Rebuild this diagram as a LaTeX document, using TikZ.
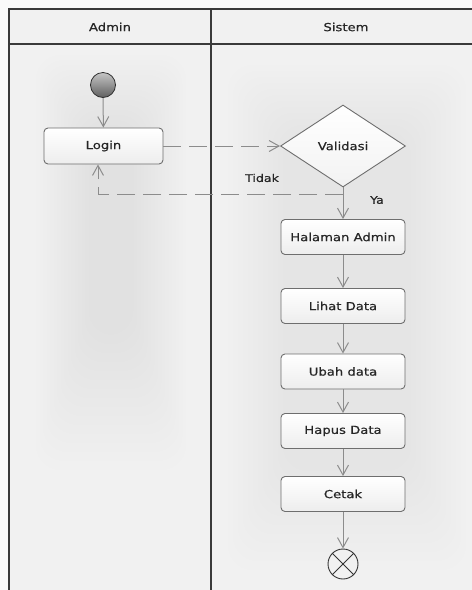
\documentclass[tikz,border=0pt]{standalone}
\usepackage{fontspec}
\newfontfamily\lanefont[FakeStretch=1.2,FakeBold=0.6]{DejaVu Sans}
\usetikzlibrary{arrows.meta,shapes.geometric}
\definecolor{pagebg}{HTML}{FAFAFA}
\definecolor{lanebg}{HTML}{F1F1F1}
\definecolor{frameline}{HTML}{3A3A3A}
\definecolor{flowline}{HTML}{8C8C8C}
\definecolor{boxline}{HTML}{6E6E6E}
\definecolor{txt}{HTML}{262626}

\begin{document}
\begin{tikzpicture}[x=1pt,y=-1pt,
  font=\lanefont\fontsize{11}{13}\selectfont, text=txt,
  action/.style={rectangle, rounded corners=4pt, draw=boxline, line width=0.9pt,
    top color=white, bottom color=gray!14, minimum width=124pt,
    minimum height=35pt, inner sep=0pt},
  decision/.style={diamond, draw=boxline, line width=0.9pt,
    top color=white, bottom color=gray!10, minimum width=125pt,
    minimum height=82pt, inner sep=0pt},
  flow/.style={draw=flowline, line width=1pt,
    -{Straight Barb[length=10pt,width=11pt,line width=1pt]}},
  alt/.style={flow, dash pattern=on 18pt off 8pt},
  lane/.style={draw=frameline, line width=1.6pt},
  guard/.style={font=\lanefont\fontsize{10.5}{12}\selectfont}]

\useasboundingbox (0,0) rectangle (472,590);

% page and swimlane background
\fill[pagebg] (0,0) rectangle (472,590);
\fill[lanebg] (9,9) rectangle (472,590);

% soft shading inside the lanes
\foreach \i in {0,...,15}
  \fill[black, opacity=0.005, rounded corners=24pt]
    ({36+3.5*\i},{55+5*\i}) rectangle ({186-3.5*\i},{470-9*\i});
\foreach \i in {0,...,11}
  \fill[black, opacity=0.0035, rounded corners=24pt]
    ({228+5*\i},{65+6*\i}) rectangle ({466-5*\i},{570-9*\i});

% swimlane frame
\draw[lane] (472,9) -- (9,9) -- (9,590);
\draw[lane] (9,44) -- (472,44);
\draw[lane] (211,9) -- (211,590);

\node (hadmin) at (110,27) {Admin};
\node (hsistem) at (346,27) {Sistem};

% activity nodes
\node[circle, minimum size=25pt, inner sep=0pt, draw=gray!35!black,
  line width=0.8pt, top color=gray!45, bottom color=gray!75!black] (start) at (103,85) {};
\node[action, minimum width=119pt, minimum height=36pt] (login) at (103.5,146) {Login};
\node[decision] (val) at (343,146) {Validasi};
\node[action] (hal) at (343,237) {Halaman Admin};
\node[action] (lihat) at (343,306) {Lihat Data};
\node[action] (ubah) at (343,371.5) {Ubah data};
\node[action] (hapus) at (343,431) {Hapus Data};
\node[action] (cetak) at (343,494) {Cetak};
\node[circle, minimum size=30pt, inner sep=0pt, draw=gray!40!black,
  line width=0.9pt, fill=lanebg] (end) at (343,564) {};
\draw[gray!40!black, line width=0.9pt] (end.north west) -- (end.south east);
\draw[gray!40!black, line width=0.9pt] (end.north east) -- (end.south west);

% control flows
\draw[flow] (start) -- (login);
\draw[alt] (login) -- (val);
\draw[flow] (val) -- (hal);
\coordinate (split) at (343,194);
\coordinate (back) at (98,194);
\draw[alt] (split) -- (back) -- (back |- login.south);
\draw[flow] (hal) -- (lihat);
\draw[flow] (lihat) -- (ubah);
\draw[flow] (ubah) -- (hapus);
\draw[flow] (hapus) -- (cetak);
\draw[flow] (cetak) -- (end);

% guards
\node[guard] (tidak) at (262,178) {Tidak};
\node[guard] (ya) at (377,200) {Ya};
\end{tikzpicture}
\end{document}
